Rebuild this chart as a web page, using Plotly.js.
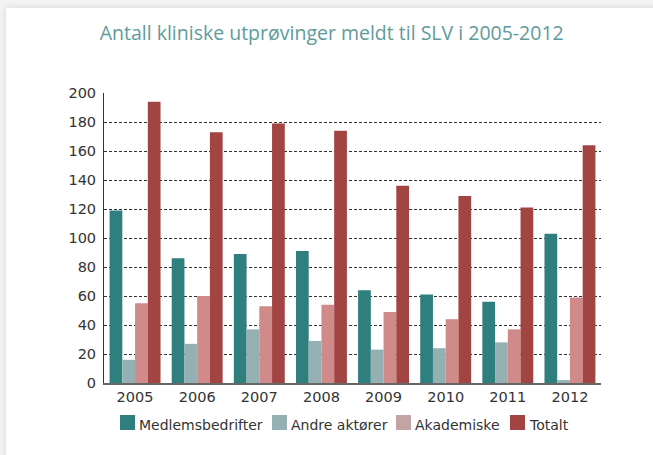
<!DOCTYPE html>
<html>
<head>
<meta charset="utf-8">
<script src="https://cdn.plot.ly/plotly-3.0.1.min.js"></script>
<style>
html,body{margin:0;padding:0;background:#f4f4f4;width:653px;height:455px;overflow:hidden;}
#card{position:absolute;left:6px;top:8px;width:660px;height:460px;background:#fff;box-shadow:0 0 8px rgba(0,0,0,0.12);}
#chart{position:absolute;left:0;top:0;width:653px;height:455px;}
</style>
</head>
<body>
<div id="card"></div>
<div id="chart"></div>
<script>
const years = ['2005','2006','2007','2008','2009','2010','2011','2012'];
const medlemsbedrifter = [119, 86, 89, 91, 64, 61, 56, 103];
const andreAktorer = [16, 27, 37, 29, 23, 24, 28, 2];
const akademiske = [55, 60, 53, 54, 49, 44, 37, 59];
const totalt = [194, 173, 179, 174, 136, 129, 121, 164];
const seriesNames = ['Medlemsbedrifter', 'Andre aktører', 'Akademiske', 'Totalt'];
const colors = ['#2f7f7e', '#95b0b2', '#d08a89', '#a24542'];
const legendColors = ['#2f7f7e', '#95b0b2', '#c2a4a4', '#a24542'];
const yTicks = [0, 20, 40, 60, 80, 100, 120, 140, 160, 180, 200];

const seriesData = [medlemsbedrifter, andreAktorer, akademiske, totalt];
const traces = seriesData.map((vals, i) => ({
  type: 'bar',
  x: years,
  y: vals,
  name: seriesNames[i],
  marker: {color: colors[i], line: {width: 0}},
  showlegend: false
}));

// plot area geometry (px)
const W = 653, H = 455, L = 104, R = 52, T = 93, B = 72;
const pw = W - L - R, ph = H - T - B;
const px2x = p => (p - L) / pw;
const px2y = p => (H - B - p) / ph;

// legend drawn as shapes + text (positions in px)
const legendStarts = [120, 272, 396, 510];
const sq = 15, legTop = 415;
const shapes = [];
const annotations = [];
seriesNames.forEach((name, i) => {
  shapes.push({
    type: 'rect', xref: 'paper', yref: 'paper',
    x0: px2x(legendStarts[i]), x1: px2x(legendStarts[i] + sq),
    y0: px2y(legTop + sq), y1: px2y(legTop),
    fillcolor: legendColors[i], line: {width: 0}
  });
  annotations.push({
    xref: 'paper', yref: 'paper',
    x: px2x(legendStarts[i] + sq + 2), y: px2y(legTop + sq / 2 + 2),
    xanchor: 'left', yanchor: 'middle', showarrow: false,
    text: name,
    font: {family: 'DejaVu Sans, sans-serif', size: 14, color: '#333'}
  });
});

const layout = {
  width: W,
  height: H,
  paper_bgcolor: 'rgba(0,0,0,0)',
  plot_bgcolor: 'rgba(0,0,0,0)',
  margin: {l: L, r: R, t: T, b: B},
  barmode: 'group',
  bargap: 0.18,
  bargroupgap: 0,
  font: {family: 'DejaVu Sans, sans-serif', color: '#333'},
  title: {
    text: 'Antall kliniske utprøvinger meldt til SLV i 2005-2012',
    font: {family: 'Open Sans, Noto Sans, sans-serif', size: 19.5, color: '#5e9b9b'},
    x: 0.508, xanchor: 'center', y: 0.927, yanchor: 'middle'
  },
  xaxis: {
    type: 'category',
    showgrid: false,
    showline: true, linecolor: '#666', linewidth: 2,
    ticks: '', tickfont: {family: 'DejaVu Sans, sans-serif', size: 14.5, color: '#333'},
    zeroline: false
  },
  yaxis: {
    range: [0, 200],
    tickvals: yTicks,
    showgrid: true, gridcolor: '#333', gridwidth: 1, griddash: '3px,2px',
    showline: true, linecolor: '#333', linewidth: 1,
    zeroline: false,
    ticks: 'outside', ticklen: 4, tickcolor: 'rgba(0,0,0,0)',
    tickfont: {family: 'DejaVu Sans, sans-serif', size: 14.5, color: '#333'}
  },
  shapes: shapes,
  annotations: annotations,
  showlegend: false
};

Plotly.newPlot('chart', traces, layout, {displayModeBar: false, staticPlot: true});
</script>
</body>
</html>
